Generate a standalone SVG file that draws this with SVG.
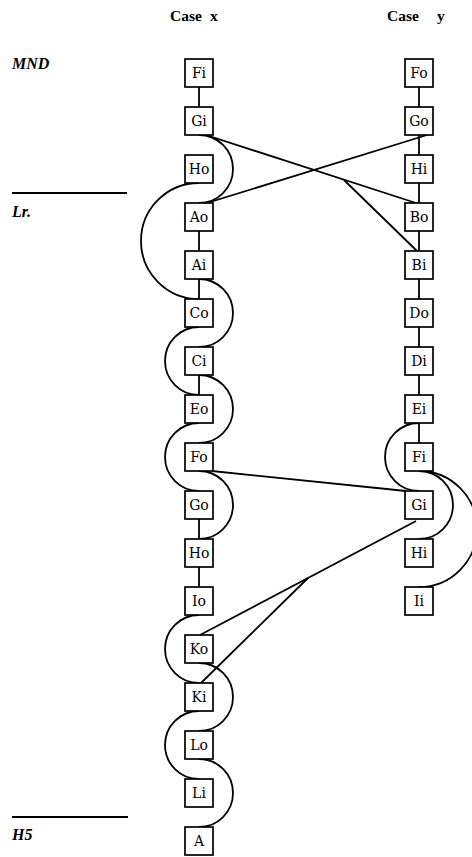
<svg xmlns="http://www.w3.org/2000/svg" width="472" height="857" viewBox="0 0 472 857">
<style>
.box rect{fill:#fff;stroke:#000;stroke-width:1.7}
.box text{font-family:"DejaVu Serif","Liberation Serif",serif;font-size:14px;text-anchor:middle;fill:#000}
.c{fill:none;stroke:#000;stroke-width:1.8}
.side{font-family:"Liberation Serif",serif;font-size:16px;font-style:italic;font-weight:bold}
.hd{font-family:"Liberation Serif",serif;font-size:15.5px;font-weight:bold}
</style>
<g id="headers">
<text class="hd" x="170" y="21">Case</text><text class="hd" x="210" y="21">x</text>
<text class="hd" x="387" y="21">Case</text><text class="hd" x="437" y="21">y</text>
<text class="side" x="12" y="69">MND</text>
<line x1="12" y1="193" x2="127" y2="193" stroke="#000" stroke-width="1.8"/>
<text class="side" x="12" y="217">Lr.</text>
<line x1="12" y1="817" x2="128" y2="817" stroke="#000" stroke-width="1.8"/>
<text class="side" x="12" y="840">H5</text>
</g>
<g id="connectors" class="c">
<line x1="199" y1="87" x2="199" y2="107"/>
<line x1="199" y1="231" x2="199" y2="251"/>
<line x1="199" y1="279" x2="199" y2="299"/>
<line x1="199" y1="375" x2="199" y2="395"/>
<line x1="199" y1="519" x2="199" y2="539"/>
<line x1="199" y1="567" x2="199" y2="587"/>
<line x1="419" y1="87" x2="419" y2="107"/>
<line x1="419" y1="135" x2="419" y2="155"/>
<line x1="419" y1="183" x2="419" y2="203"/>
<line x1="419" y1="231" x2="419" y2="251"/>
<line x1="419" y1="279" x2="419" y2="299"/>
<line x1="419" y1="327" x2="419" y2="347"/>
<line x1="419" y1="375" x2="419" y2="395"/>
<line x1="419" y1="423" x2="419" y2="443"/>
<path d="M199,135 A34,34 0 0 1 199,203"/>
<path d="M199,183 A58,58 0 0 0 199,299"/>
<path d="M199,279 A34,34 0 0 1 199,347"/>
<path d="M199,327 A34,34 0 0 0 199,395"/>
<path d="M199,375 A34,34 0 0 1 199,443"/>
<path d="M199,423 A34,34 0 0 0 199,491"/>
<path d="M199,471 A34,34 0 0 1 199,539"/>
<path d="M199,615 A34,34 0 0 0 199,683"/>
<path d="M199,663 A34,34 0 0 1 199,731"/>
<path d="M199,711 A34,34 0 0 0 199,779"/>
<path d="M199,759 A34,34 0 0 1 199,827"/>
<path d="M419,423 A34,34 0 0 0 419,491"/>
<path d="M419,471 A34,34 0 0 1 419,539"/>
<path d="M419,471 A58,58 0 0 1 419,587"/>
<line x1="206" y1="135" x2="416" y2="203"/>
<line x1="344" y1="180" x2="417" y2="251"/>
<line x1="427" y1="135" x2="207" y2="203"/>
<line x1="212" y1="471" x2="406" y2="491"/>
<line x1="416" y1="521" x2="200" y2="635"/>
<line x1="308" y1="578" x2="201" y2="683"/>
</g>
<g id="L-Fi" class="box"><rect x="185" y="59" width="28" height="28"/><text x="199" y="78">Fi</text></g>
<g id="L-Gi" class="box"><rect x="185" y="107" width="28" height="28"/><text x="199" y="126">Gi</text></g>
<g id="L-Ho1" class="box"><rect x="185" y="155" width="28" height="28"/><text x="199" y="174">Ho</text></g>
<g id="L-Ao" class="box"><rect x="185" y="203" width="28" height="28"/><text x="199" y="222">Ao</text></g>
<g id="L-Ai" class="box"><rect x="185" y="251" width="28" height="28"/><text x="199" y="270">Ai</text></g>
<g id="L-Co" class="box"><rect x="185" y="299" width="28" height="28"/><text x="199" y="318">Co</text></g>
<g id="L-Ci" class="box"><rect x="185" y="347" width="28" height="28"/><text x="199" y="366">Ci</text></g>
<g id="L-Eo" class="box"><rect x="185" y="395" width="28" height="28"/><text x="199" y="414">Eo</text></g>
<g id="L-Fo" class="box"><rect x="185" y="443" width="28" height="28"/><text x="199" y="462">Fo</text></g>
<g id="L-Go" class="box"><rect x="185" y="491" width="28" height="28"/><text x="199" y="510">Go</text></g>
<g id="L-Ho2" class="box"><rect x="185" y="539" width="28" height="28"/><text x="199" y="558">Ho</text></g>
<g id="L-Io" class="box"><rect x="185" y="587" width="28" height="28"/><text x="199" y="606">Io</text></g>
<g id="L-Ko" class="box"><rect x="185" y="635" width="28" height="28"/><text x="199" y="654">Ko</text></g>
<g id="L-Ki" class="box"><rect x="185" y="683" width="28" height="28"/><text x="199" y="702">Ki</text></g>
<g id="L-Lo" class="box"><rect x="185" y="731" width="28" height="28"/><text x="199" y="750">Lo</text></g>
<g id="L-Li" class="box"><rect x="185" y="779" width="28" height="28"/><text x="199" y="798">Li</text></g>
<g id="L-A" class="box"><rect x="185" y="827" width="28" height="28"/><text x="199" y="846">A</text></g>
<g id="R-Fo" class="box"><rect x="405" y="59" width="28" height="28"/><text x="419" y="78">Fo</text></g>
<g id="R-Go" class="box"><rect x="405" y="107" width="28" height="28"/><text x="419" y="126">Go</text></g>
<g id="R-Hi1" class="box"><rect x="405" y="155" width="28" height="28"/><text x="419" y="174">Hi</text></g>
<g id="R-Bo" class="box"><rect x="405" y="203" width="28" height="28"/><text x="419" y="222">Bo</text></g>
<g id="R-Bi" class="box"><rect x="405" y="251" width="28" height="28"/><text x="419" y="270">Bi</text></g>
<g id="R-Do" class="box"><rect x="405" y="299" width="28" height="28"/><text x="419" y="318">Do</text></g>
<g id="R-Di" class="box"><rect x="405" y="347" width="28" height="28"/><text x="419" y="366">Di</text></g>
<g id="R-Ei" class="box"><rect x="405" y="395" width="28" height="28"/><text x="419" y="414">Ei</text></g>
<g id="R-Fi" class="box"><rect x="405" y="443" width="28" height="28"/><text x="419" y="462">Fi</text></g>
<g id="R-Gi" class="box"><rect x="405" y="491" width="28" height="28"/><text x="419" y="510">Gi</text></g>
<g id="R-Hi2" class="box"><rect x="405" y="539" width="28" height="28"/><text x="419" y="558">Hi</text></g>
<g id="R-Ii" class="box"><rect x="405" y="587" width="28" height="28"/><text x="419" y="606">Ii</text></g>
</svg>
